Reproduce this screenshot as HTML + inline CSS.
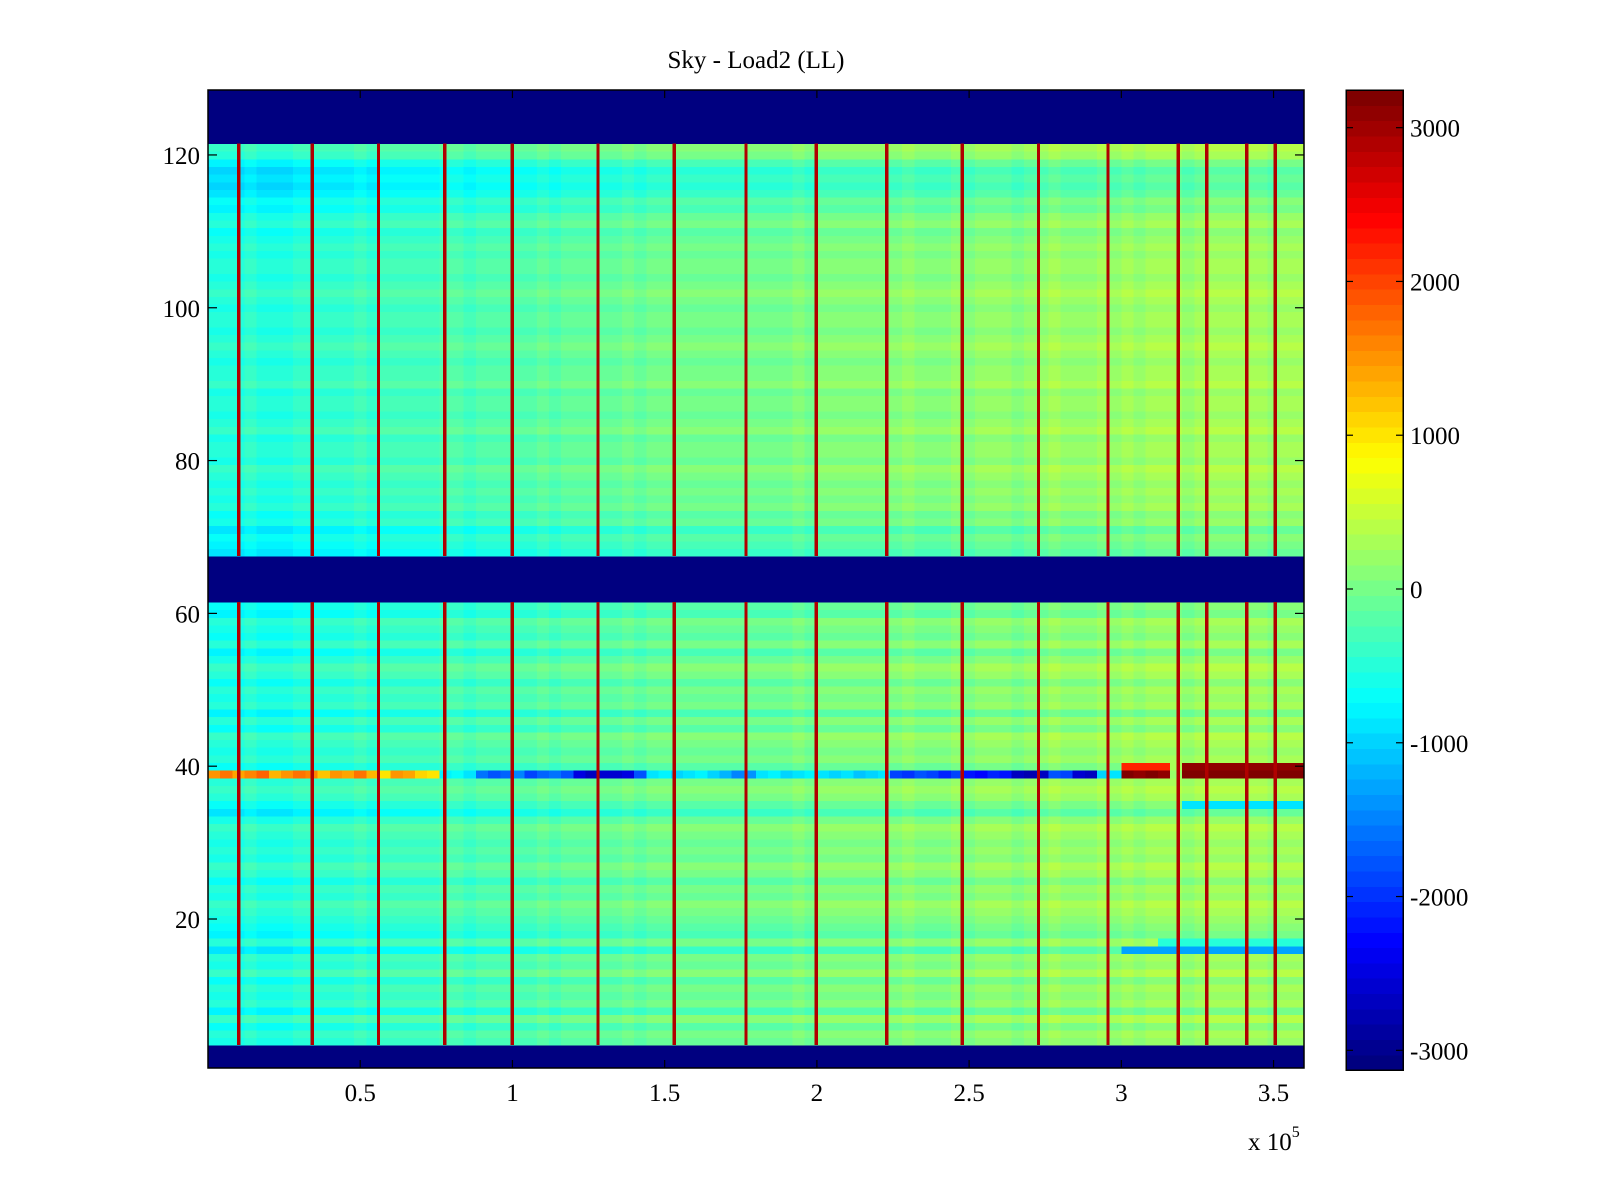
<!DOCTYPE html>
<html><head><meta charset="utf-8"><title>Sky - Load2 (LL)</title>
<style>
html,body{margin:0;padding:0;background:#fff;}
svg{display:block;font-family:"Liberation Serif",serif;}
</style></head>
<body>
<svg id="chart" width="1600" height="1200" viewBox="0 0 1600 1200">
<rect x="0" y="0" width="1600" height="1200" fill="#fff"/>
<text x="756" y="68" font-size="25" text-anchor="middle">Sky - Load2 (LL)</text>
<g id="cells" shape-rendering="crispEdges"></g>
<g id="stripes" shape-rendering="crispEdges"></g>
<rect x="208" y="90" width="1096" height="978" fill="none" stroke="#000" stroke-width="1.5"/>
<g id="xaxis"></g>
<g id="yaxis"></g>
<text x="1248" y="1150" font-size="25">x 10<tspan dy="-13" font-size="16">5</tspan></text>
<g id="cbar" shape-rendering="crispEdges"></g>
<g id="cbaxis"></g>
</svg>
<script>
// ---- data ----
const xMin = 0, xMax = 360000, colWidth = 4000;
const yMin = 0.5, yMax = 128.5;
const cMin = -3128, cMax = 3245;
const bandRows = [1,2,3,62,63,64,65,66,67,122,123,124,125,126,127,128];
const bandValue = -3200;
// rowBase for rows 4..61
const rowBaseLow = [-100,0,-200,100,-300,0,-100,
 0,-200,100,-100,0,-400,0,-300,-200,-100,
 0,100,-100,0,-200,0,100,-100,0,-100,
 0,100,-100,-400,-200,0,100,0,
 0,-200,
 0,-100,0,100,-200,0,-300,0,-100,0,
 -200,0,100,-100,-300,0,-200,-100,0,-300,-200];
// rowBase for rows 68..121
const rowBaseHigh = [-400,-300,-200,-400,-100,-200,0,-100,0,-100,
 0,100,-100,0,0,-100,100,0,-100,0,
 0,-100,100,0,0,-100,0,100,0,-100,
 0,0,-100,0,100,0,-100,0,0,-100,
 0,-100,-200,0,-100,-300,-200,-400,-500,-400,
 -500,-300,0,100];
const colTrend = [-500,-450,-450,-400,-450,-500,-450,-400,-400,-350,-400,-350,-300,-350,-300,
 -300,-250,-250,-300,-200,-200,-250,-200,-150,-200,-150,-150,-100,-150,-100,
 -100,-50,-100,-50,0,-50,0,0,50,0,0,50,0,50,0,
 50,0,50,100,50,100,150,100,100,150,100,150,200,150,100,
 150,200,150,200,250,200,150,200,250,300,250,200,250,300,250,
 300,250,300,350,300,250,300,350,300,300,350,300,250,300,300];
const row39Values = [1500,1700,1400,1600,1800,1300,1500,1700,1600,1200,1500,1400,1700,1300,1000,1500,1400,1100,1000,
 -800,-700,-900,
 -1600,-1800,-1700,-1500,-1900,-1700,-1600,-1800,
 -2500,-2700,-2600,-2600,-2500,-1800,
 -900,-800,-1000,-900,-800,-1000,-1200,-1500,-1400,-900,-800,-1000,-900,-800,-900,-1000,-900,-1100,-1000,-900,
 -1900,-2000,-1800,-1900,-2100,-1900,
 -2200,-2300,-2100,-2200,
 -2700,-2800,-2700,-1800,-1900,-2600,-2700,-1000,-900,
 3200,3100,3200,3100,200,
 3200,3200,3200,3200,3200,3200,3200,3200,3200,3200];
const streakRows = [40, 40, 40, 16, 35, 17];
const streakStart = [75, 79, 80, 75, 80, 78];
const streakEnd = [79, 80, 90, 90, 90, 90];
const streakValues = [2200, 300, 3050, -1300, -900, -500];
const stripeX = [10100,34200,56000,77800,99900,128100,153200,176700,199800,222900,247700,272800,295600,318700,328100,341200,350600];
const stripeValue = 2900, stripeWidth = 1100;
const xTicks = [50000,100000,150000,200000,250000,300000,350000];
const xTickLabels = ["0.5","1","1.5","2","2.5","3","3.5"];
const yTicks = [20,40,60,80,100,120];
const yTickLabels = ["20","40","60","80","100","120"];
const cTicks = [-3000,-2000,-1000,0,1000,2000,3000];
const cTickLabels = ["-3000","-2000","-1000","0","1000","2000","3000"];

// ---- scales ----
const PL=208, PR=1304, PT=90, PB=1068;
const xs = v => PL + (v - xMin) / (xMax - xMin) * (PR - PL);
const ys = v => PB - (v - yMin) / (yMax - yMin) * (PB - PT);
const CL=1346, CR=1403, CT=90, CB=1070;
const cs = v => CB - (v - cMin) / (cMax - cMin) * (CB - CT);
function jet(v){
  let t=(v-cMin)/(cMax-cMin); t=Math.max(0,Math.min(1,t));
  t=Math.floor(t*63.999)/63;
  const c=x=>Math.round(255*Math.max(0,Math.min(1,x)));
  return `rgb(${c(1.5-Math.abs(4*t-3))},${c(1.5-Math.abs(4*t-2))},${c(1.5-Math.abs(4*t-1))})`;
}
const NS="http://www.w3.org/2000/svg";
function mk(tag, attrs, parent){const e=document.createElementNS(NS,tag);for(const k in attrs)e.setAttribute(k,attrs[k]);parent.appendChild(e);return e;}

function rowValue(r,c){
  if (bandRows.includes(r)) return bandValue;
  if (r===39) return row39Values[c];
  let v;
  if (r>=4 && r<=61) v=rowBaseLow[r-4]; else v=rowBaseHigh[r-68];
  v += colTrend[c];
  for (let i=0;i<streakRows.length;i++){
    if (streakRows[i]===r && c>=streakStart[i] && c<streakEnd[i]) v=streakValues[i];
  }
  return v;
}
const cells=document.getElementById('cells');
const nCols=Math.round((xMax-xMin)/colWidth);
for(let r=1;r<=128;r++){
  for(let c=0;c<nCols;c++){
    const x0=xs(xMin+c*colWidth), x1=xs(xMin+(c+1)*colWidth);
    const y0=ys(r+0.5), y1=ys(r-0.5);
    const el=mk('rect',{x:x0.toFixed(2),y:y0.toFixed(2),width:(x1-x0+0.6).toFixed(2),height:(y1-y0+0.6).toFixed(2),fill:jet(rowValue(r,c))},cells);
    
    
  }
}
const stripes=document.getElementById('stripes');
const dataBlocks=[[3.5,61.5],[67.5,121.5]];
stripeX.forEach(sx=>{
  dataBlocks.forEach(b=>{
    const el=mk('rect',{x:xs(sx-stripeWidth/2).toFixed(2),y:ys(b[1]).toFixed(2),width:(xs(sx+stripeWidth/2)-xs(sx-stripeWidth/2)).toFixed(2),height:(ys(b[0])-ys(b[1])).toFixed(2),fill:jet(stripeValue)},stripes);
    
    
  });
});
// x axis
const xa=document.getElementById('xaxis');
xTicks.forEach((t,i)=>{
  const x=xs(t);
  const a=mk('line',{x1:x,x2:x,y1:PB,y2:PB-8,stroke:'#000','stroke-width':1.2},xa);
  
  
  const b=mk('line',{x1:x,x2:x,y1:PT,y2:PT+8,stroke:'#000','stroke-width':1.2},xa);
  
  
  const l=mk('text',{x:x,y:1101,'font-size':25,'text-anchor':'middle'},xa);
  l.textContent=xTickLabels[i];
  
  
});
// y axis
const ya=document.getElementById('yaxis');
yTicks.forEach((t,i)=>{
  const y=ys(t);
  const a=mk('line',{x1:PL,x2:PL+9,y1:y,y2:y,stroke:'#000','stroke-width':1.2},ya);
  
  
  const b=mk('line',{x1:PR,x2:PR-9,y1:y,y2:y,stroke:'#000','stroke-width':1.2},ya);
  
  
  const l=mk('text',{x:200,y:y+9,'font-size':25,'text-anchor':'end'},ya);
  l.textContent=yTickLabels[i];
  
  
});
// colorbar
const cb=document.getElementById('cbar');
for(let k=0;k<64;k++){
  const v0=cMin+(cMax-cMin)*k/64, v1=cMin+(cMax-cMin)*(k+1)/64;
  const el=mk('rect',{x:CL,y:cs(v1).toFixed(2),width:CR-CL,height:(cs(v0)-cs(v1)+0.6).toFixed(2),fill:jet((v0+v1)/2)},cb);
  
  
}
const fr=mk('rect',{x:CL,y:CT,width:CR-CL,height:CB-CT,fill:'none',stroke:'#000','stroke-width':1.5},cb);


const ca=document.getElementById('cbaxis');
cTicks.forEach((t,i)=>{
  const y=cs(t);
  const a=mk('line',{x1:CL,x2:CL+7,y1:y,y2:y,stroke:'#000','stroke-width':1.2},ca);
  
  
  const b=mk('line',{x1:CR,x2:CR-7,y1:y,y2:y,stroke:'#000','stroke-width':1.2},ca);
  
  
  const l=mk('text',{x:1410,y:y+9,'font-size':25},ca);
  l.textContent=cTickLabels[i];
  
  
});
</script>
</body></html>
